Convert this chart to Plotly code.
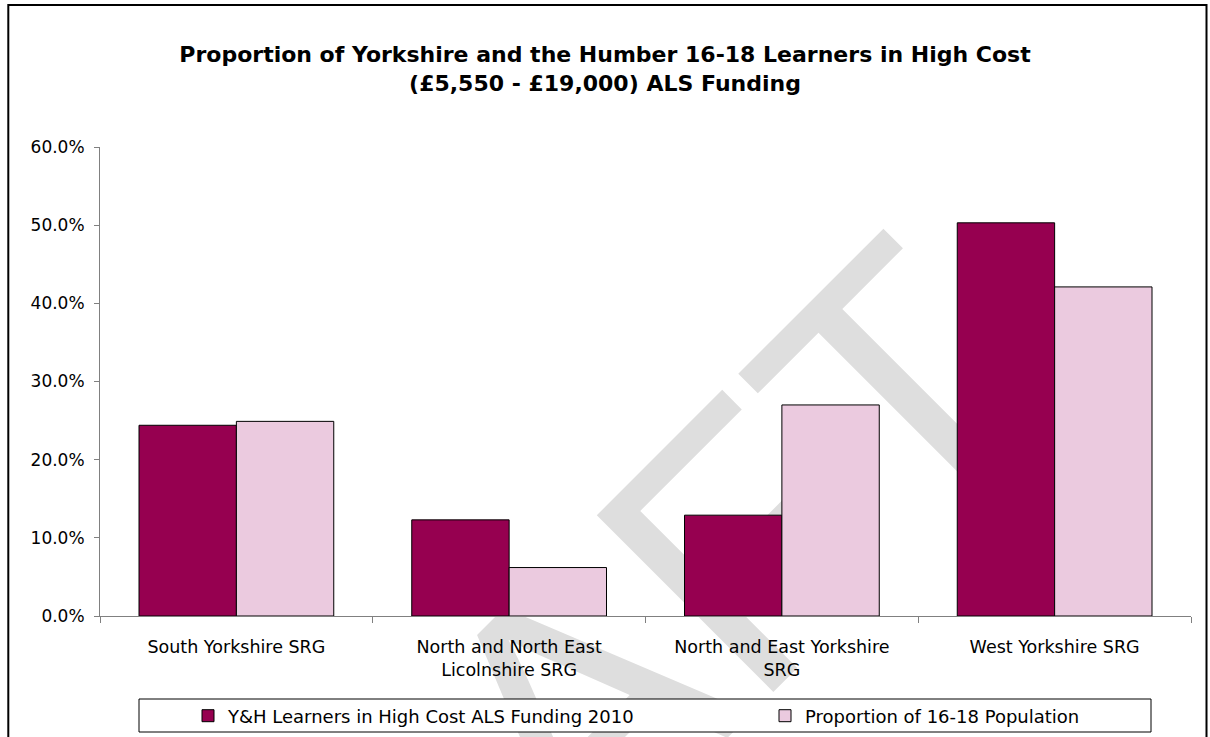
import plotly.graph_objects as go

# chart data
categories = ["South Yorkshire SRG",
              "North and North East<br>Licolnshire SRG",
              "North and East Yorkshire<br>SRG",
              "West Yorkshire SRG"]
learners = [0.244, 0.123, 0.129, 0.503]
population = [0.249, 0.062, 0.270, 0.421]
series_names = ["Y&amp;H Learners in High Cost ALS Funding 2010",
                "Proportion of 16-18 Population"]
y_ticks = [0, 0.1, 0.2, 0.3, 0.4, 0.5, 0.6]

W, H = 1210, 737
L, R, T, B = 100, 19, 147, 121
PW, PH = W - L - R, H - T - B


def px(x, y):
    '''convert pixel position on the page to paper coordinates'''
    return (x - L) / PW, (H - B - y) / PH


FONT = "DejaVu Sans"

fig = go.Figure()
fig.add_trace(go.Bar(x=categories, y=learners, name=series_names[0],
                     marker=dict(color="#960050", line=dict(color="black", width=1)),
                     legend="legend", showlegend=True))
fig.add_trace(go.Bar(x=categories, y=population, name=series_names[1],
                     marker=dict(color="#EBCADF", line=dict(color="black", width=1)),
                     legend="legend2", showlegend=True))

# watermark, drawn under the bars
wx, wy = px(525, 714)
# legend frame
lx0, ly0 = px(139, 699)
lx1, ly1 = px(1151, 732)
# chart border
bx0, by0 = px(8.3, 5)
bx1, by1 = px(1206.5, 770)

fig.update_layout(
    width=W, height=H,
    showlegend=True,
    margin=dict(l=L, r=R, t=T, b=B, autoexpand=False),
    paper_bgcolor="white",
    plot_bgcolor="rgba(0,0,0,0)",
    font=dict(family=FONT, size=17, color="black"),
    title=dict(text="Proportion of Yorkshire and the Humber 16-18 Learners in High Cost"
                    "<br>(£5,550 - £19,000) ALS Funding",
               font=dict(family=FONT, size=22, color="black", weight="bold"),
               x=0.5, xref="container", xanchor="center",
               y=1 - 62 / H, yref="container", yanchor="middle"),
    barmode="group",
    bargap=0.286,
    bargroupgap=0,
    xaxis=dict(showline=True, linecolor="#808080", linewidth=1,
               ticks="outside", ticklen=6, tickcolor="#808080",
               tickson="boundaries", showgrid=False,
               tickfont=dict(size=17.5), ticklabelstandoff=15),
    yaxis=dict(range=[0, 0.6], tickvals=y_ticks, tickformat=".1%",
               showline=True, linecolor="#808080", linewidth=1,
               ticks="outside", ticklen=5, tickcolor="#808080",
               showgrid=False, zeroline=False,
               tickfont=dict(size=17), ticklabelstandoff=6),
    legend=dict(orientation="h", x=px(188, 0)[0], xanchor="left",
                y=px(0, 716)[1], yanchor="middle",
                bgcolor="rgba(0,0,0,0)", borderwidth=0,
                font=dict(size=18)),
    legend2=dict(orientation="h", x=px(765, 0)[0], xanchor="left",
                 y=px(0, 716)[1], yanchor="middle",
                 bgcolor="rgba(0,0,0,0)", borderwidth=0,
                 font=dict(size=18)),
    shapes=[
        dict(type="rect", xref="paper", yref="paper",
             x0=wx, x1=wx, y0=wy, y1=wy,
             line=dict(width=0), fillcolor="rgba(0,0,0,0)", layer="below",
             label=dict(text="DRAFT", textangle=-45, textposition="middle center",
                        font=dict(family="Arial", size=363, color="#dedede"))),
        dict(type="rect", xref="paper", yref="paper",
             x0=lx0, x1=lx1, y0=ly0, y1=ly1,
             line=dict(color="black", width=1), fillcolor="white", layer="above"),
        dict(type="rect", xref="paper", yref="paper",
             x0=bx0, x1=bx1, y0=by0, y1=by1,
             line=dict(color="black", width=2), fillcolor="rgba(0,0,0,0)", layer="above"),
    ],
)

# the page has a default body margin; remove it so the figure sits at 0,0
fig.write_html("out.html", config={"displayModeBar": False},
               post_script="document.body.style.margin='0px';")
